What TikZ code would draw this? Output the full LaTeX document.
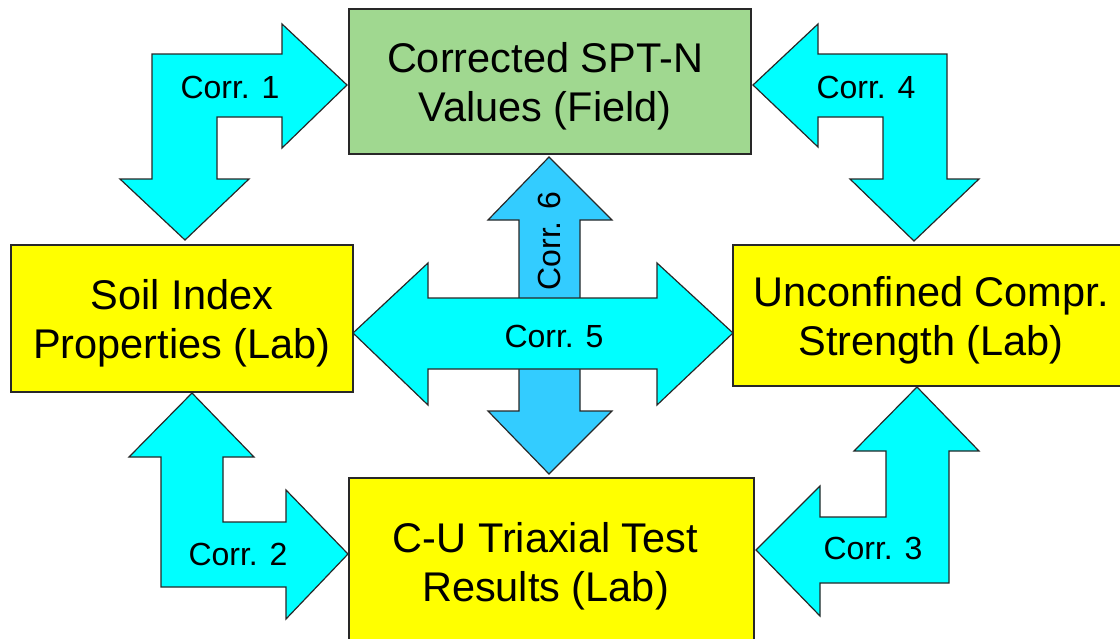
\documentclass[tikz,border=0pt]{standalone}
\usepackage{fontspec}
\setmainfont{Liberation Sans}
\definecolor{corrcyan}{RGB}{0, 255, 255}
\definecolor{corrblue}{RGB}{51, 204, 255}
\definecolor{fieldgreen}{RGB}{160, 216, 144}
\definecolor{labyellow}{RGB}{255, 255, 0}
\definecolor{edge}{RGB}{40, 40, 40}

\tikzset{
  box/.style={draw=edge, line width=1.6pt, inner sep=0pt},
  boxtext/.style={align=center, inner sep=0pt, font=\fontsize{41.5}{49}\selectfont},
  blockarrow/.style={draw=edge, line width=1.2pt, line join=miter},
  corrlabel/.style={font=\fontsize{32}{38}\selectfont, inner sep=0pt},
}

\begin{document}
\begin{tikzpicture}[x=1pt, y=-1pt]

  \clip (0, 0) rectangle (1120, 638);
  \fill[white] (0, 0) rectangle (1120, 638);

  % bent arrows round the boxes
  \filldraw[blockarrow, fill=corrcyan] (347, 85) -- (282, 148) -- (282, 117)
    -- (217, 117) -- (217, 179) -- (249, 179) -- (185, 240) -- (120, 179)
    -- (152, 179) -- (152, 54) -- (282, 54) -- (282, 24) -- cycle;
  \node[corrlabel] (lbl1) at (230, 87) {Corr. 1};

  \filldraw[blockarrow, fill=corrcyan] (753, 85) -- (818, 24) -- (818, 54)
    -- (947, 54) -- (947, 179) -- (979, 179) -- (914, 241) -- (850, 179)
    -- (883, 179) -- (883, 117) -- (818, 117) -- (818, 147) -- cycle;
  \node[corrlabel] (lbl4) at (866, 87) {Corr. 4};

  \filldraw[blockarrow, fill=corrcyan] (192, 393) -- (254, 457) -- (223, 457)
    -- (223, 522) -- (286, 522) -- (286, 490) -- (348, 554) -- (286, 619)
    -- (286, 587) -- (161, 587) -- (161, 457) -- (129, 457) -- cycle;
  \node[corrlabel] (lbl2) at (238, 554) {Corr. 2};

  \filldraw[blockarrow, fill=corrcyan] (917, 387) -- (979, 451) -- (949, 451)
    -- (949, 583) -- (820, 583) -- (820, 616) -- (756, 550) -- (820, 486)
    -- (820, 517) -- (886, 517) -- (886, 451) -- (854, 451) -- cycle;
  \node[corrlabel] (lbl3) at (873, 548) {Corr. 3};

  % crossing arrows in the middle
  \filldraw[blockarrow, fill=corrblue] (549, 157) -- (612, 220) -- (580, 220)
    -- (580, 411) -- (612, 411) -- (549, 474) -- (488, 411) -- (519, 411)
    -- (519, 220) -- (488, 220) -- cycle;
  \node[corrlabel, rotate=90] (lbl6) at (549, 241) {Corr. 6};

  \filldraw[blockarrow, fill=corrcyan] (353, 333) -- (428, 263) -- (428, 298)
    -- (657, 298) -- (657, 263) -- (733, 333) -- (657, 405) -- (657, 369)
    -- (428, 369) -- (428, 405) -- cycle;
  \node[corrlabel] (lbl5) at (554, 336) {Corr. 5};

  % boxes
  \node[box, fill=fieldgreen, minimum width=402, minimum height=145]
    (spt) at (550, 81.5) {};
  \node[boxtext] (sptText) at ([xshift=-5pt, yshift=-5pt]spt.center)
    {Corrected SPT-N\\Values (Field)};

  \node[box, fill=labyellow, minimum width=342, minimum height=147]
    (index) at (182, 318.5) {};
  \node[boxtext] (indexText) at ([yshift=-5pt]index.center)
    {Soil Index\\Properties (Lab)};

  \node[box, fill=labyellow, minimum width=390, minimum height=141]
    (ucs) at (928, 315.5) {};
  \node[boxtext] (ucsText) at ([xshift=3pt, yshift=-5pt]ucs.center)
    {Unconfined Compr.\\Strength (Lab)};

  \node[box, fill=labyellow, minimum width=405, minimum height=168]
    (triax) at (551.5, 562) {};
  \node[boxtext] (triaxText) at ([xshift=-6pt, yshift=-4pt]triax.center)
    {C-U Triaxial Test\\Results (Lab)};

\end{tikzpicture}
\end{document}
